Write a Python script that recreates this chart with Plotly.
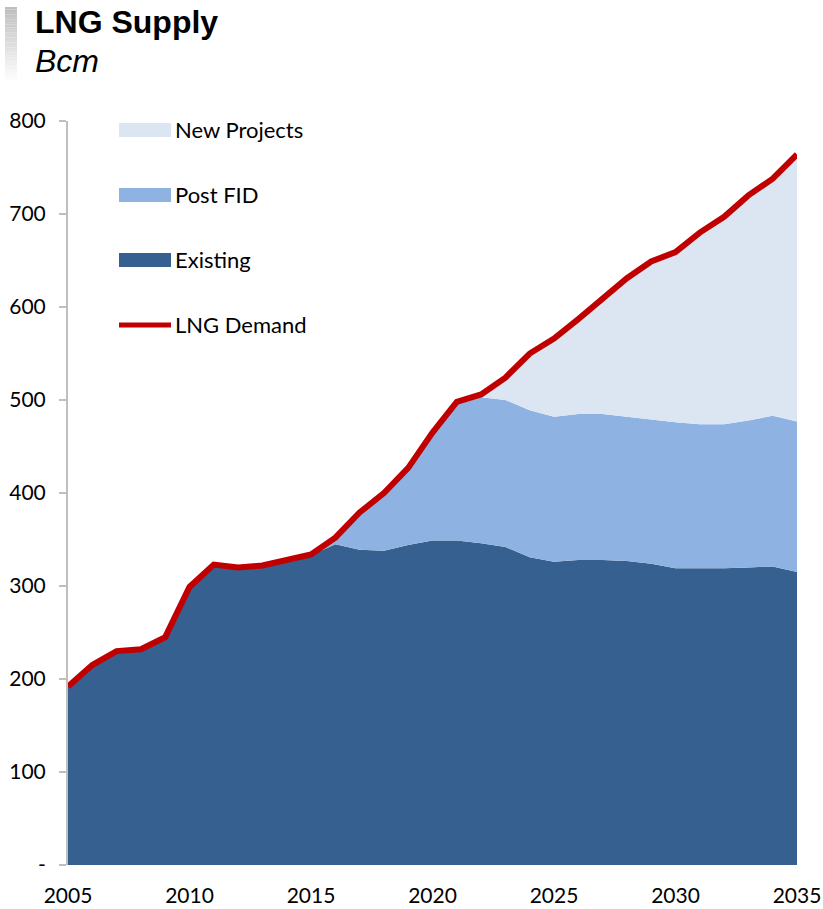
import plotly.graph_objects as go

years = list(range(2005, 2036))
existing = [192, 215, 229, 232, 245, 298, 322, 320, 321, 327, 333, 345, 339, 338, 344, 349,
            349, 346, 342, 331, 326, 328, 328, 327, 324, 319, 319, 319, 320, 321, 315]
post_fid = [0, 0, 0, 0, 0, 0, 0, 0, 0, 0, 0, 4, 37, 60, 81, 114,
            146, 157, 158, 158, 156, 157, 157, 155, 155, 157, 155, 155, 158, 162, 162]
new_projects = [0, 0, 0, 0, 0, 0, 0, 0, 0, 0, 0, 0, 0, 0, 0, 0,
                0, 3, 24, 61, 84, 102, 125, 149, 170, 183, 206, 223, 242, 255, 287]
demand = [192, 215, 230, 232, 245, 299, 323, 320, 322, 328, 334, 352, 379, 400, 427, 465,
          498, 506, 524, 550, 566, 587, 610, 631, 649, 659, 680, 697, 720, 738, 764]

y_ticks = [0, 100, 200, 300, 400, 500, 600, 700, 800]
y_tick_text = ["-", "100", "200", "300", "400", "500", "600", "700", "800"]
x_ticks = [2005, 2010, 2015, 2020, 2025, 2030, 2035]

C_EXIST = "#36608F"
C_FID = "#8EB3E2"
C_NEW = "#DCE6F2"
C_DEM = "#C00000"
FONT = "Lato"
FS = 21

fig = go.Figure()
fig.add_trace(go.Scatter(x=years, y=existing, name="Existing", stackgroup="s", mode="none",
                         fillcolor=C_EXIST, line=dict(width=0)))
fig.add_trace(go.Scatter(x=years, y=post_fid, name="Post FID", stackgroup="s", mode="none",
                         fillcolor=C_FID, line=dict(width=0)))
fig.add_trace(go.Scatter(x=years, y=new_projects, name="New Projects", stackgroup="s", mode="none",
                         fillcolor=C_NEW, line=dict(width=0)))
fig.add_trace(go.Scatter(x=years, y=demand, name="LNG Demand", mode="lines",
                         line=dict(color=C_DEM, width=6), cliponaxis=False))

W, H = 823, 909
L, R, T, B = 68, 26, 121, 44
pw = W - L - R
ph = H - T - B


def px(x):
    return (x - L) / pw


def py(y):
    return 1 - (y - T) / ph


shapes = []
# gradient bar next to title
n = 30
y0, y1 = 7, 83
for i in range(n):
    t = i / (n - 1)
    g = int(190 + (255 - 190) * t)
    shapes.append(dict(type="rect", xref="paper", yref="paper",
                       x0=px(5), x1=px(17),
                       y0=py(y0 + (y1 - y0) * (i + 1) / n),
                       y1=py(y0 + (y1 - y0) * i / n),
                       fillcolor=f"rgb({g},{g},{g})", line=dict(width=0), layer="above"))

legend_items = [("New Projects", C_NEW, 130, "rect"),
                ("Post FID", C_FID, 195, "rect"),
                ("Existing", C_EXIST, 260, "rect"),
                ("LNG Demand", C_DEM, 325, "line")]
annotations = []
for label, col, yc, kind in legend_items:
    if kind == "rect":
        shapes.append(dict(type="rect", xref="paper", yref="paper",
                           x0=px(119), x1=px(171), y0=py(yc + 7), y1=py(yc - 7),
                           fillcolor=col, line=dict(width=0), layer="above"))
    else:
        shapes.append(dict(type="line", xref="paper", yref="paper",
                           x0=px(119), x1=px(171), y0=py(yc), y1=py(yc),
                           line=dict(color=col, width=5), layer="above"))
    annotations.append(dict(text=label, xref="paper", yref="paper", x=px(173), y=py(yc - 1),
                            xanchor="left", yanchor="middle", showarrow=False,
                            font=dict(family=FONT, size=22, color="#000000")))

annotations.append(dict(text="<b>LNG Supply</b>", xref="paper", yref="paper",
                        x=px(33), y=py(22), xanchor="left", yanchor="middle", showarrow=False,
                        font=dict(family="Liberation Sans", size=32, color="#000000")))
annotations.append(dict(text="<i>Bcm</i>", xref="paper", yref="paper",
                        x=px(33), y=py(61), xanchor="left", yanchor="middle", showarrow=False,
                        font=dict(family="Liberation Sans", size=32, color="#000000")))

fig.update_layout(
    width=W, height=H,
    margin=dict(l=L, r=R, t=T, b=B, autoexpand=False),
    paper_bgcolor="white", plot_bgcolor="white",
    showlegend=False,
    shapes=shapes, annotations=annotations,
    font=dict(family=FONT, size=FS, color="#000000"),
    xaxis=dict(range=[2005, 2035], tickvals=x_ticks, showgrid=False, zeroline=False,
               showline=False, ticks="", ticklabelstandoff=16, automargin=False,
               tickfont=dict(family=FONT, size=FS, color="#000000")),
    yaxis=dict(range=[0, 800], tickvals=y_ticks, ticktext=y_tick_text, showgrid=False,
               zeroline=False, showline=True, linecolor="#BFBFBF", linewidth=2,
               ticks="outside", ticklen=7, tickcolor="#BFBFBF", tickwidth=2,
               ticklabelstandoff=9, automargin=False,
               tickfont=dict(family=FONT, size=FS, color="#000000")),
)

fig.write_html("out.html", config={"displayModeBar": False},
               post_script="document.body.style.margin='0';document.body.style.overflow='hidden';")
